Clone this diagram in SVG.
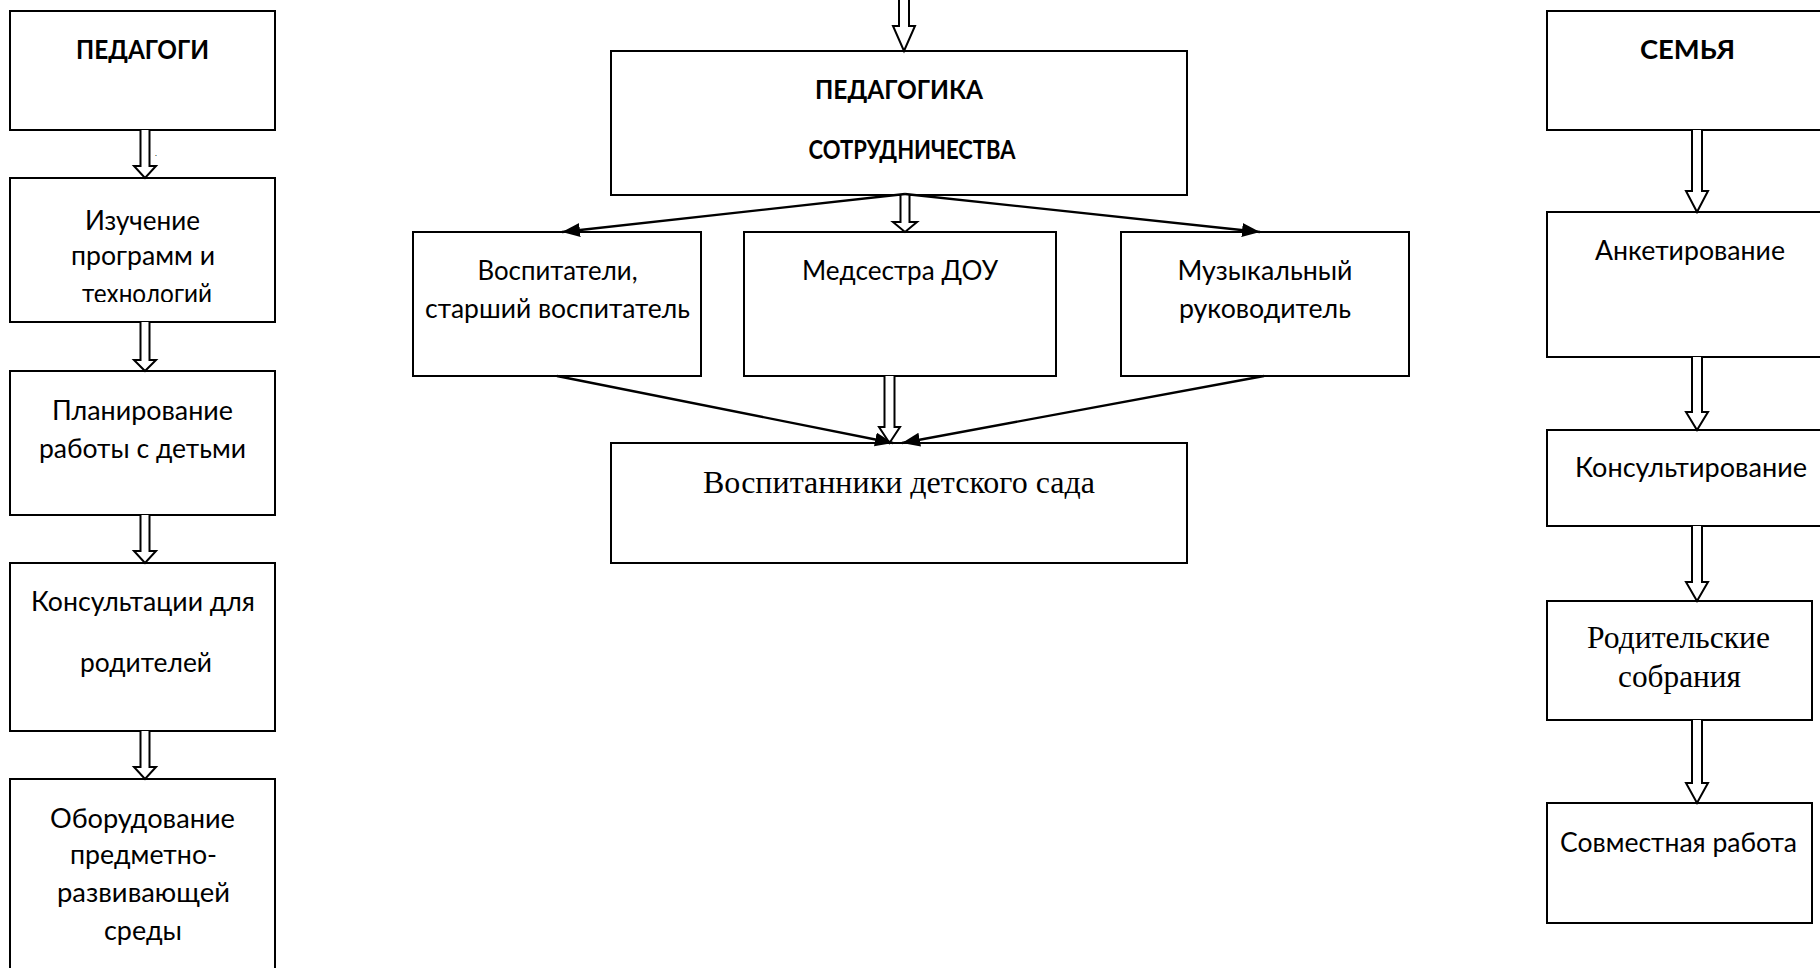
<svg xmlns="http://www.w3.org/2000/svg" width="1820" height="968" viewBox="0 0 1820 968">
<defs>
<style>
.box{fill:#fff;stroke:#000;stroke-width:2}
.t{font-family:Lato,"Open Sans","Liberation Sans",sans-serif;font-size:26px;fill:#000;text-anchor:middle}
.b{font-weight:bold}
.s{font-family:"Liberation Serif","Times New Roman",serif;font-size:32px;fill:#000;text-anchor:middle}
.ha{fill:#fff;stroke:#000;stroke-width:2;stroke-linejoin:miter}
.ln{fill:none;stroke:#000;stroke-width:2.4}
</style>
<marker id="ah" markerUnits="userSpaceOnUse" markerWidth="20" markerHeight="16" refX="18" refY="7" orient="auto">
<path d="M0,0 L18,7 L0,14 z" fill="#000"/>
</marker>
<clipPath id="clipTech"><rect x="10" y="270" width="265" height="32"/></clipPath>
</defs>
<rect width="1820" height="968" fill="#fff"/>

<g id="n-pedagogi"><rect class="box" x="10" y="11" width="265" height="119"/>
<text class="t b" x="142.5" y="59" textLength="133" lengthAdjust="spacingAndGlyphs">ПЕДАГОГИ</text></g>
<g id="n-izuchenie"><rect class="box" x="10" y="178" width="265" height="144"/>
<text class="t" x="142.5" y="230" textLength="115" lengthAdjust="spacingAndGlyphs">Изучение</text>
<text class="t" x="143" y="265" textLength="144" lengthAdjust="spacingAndGlyphs">программ и</text>
<text class="t" x="147" y="303" textLength="130" lengthAdjust="spacingAndGlyphs" clip-path="url(#clipTech)">технологий</text></g>
<g id="n-planirovanie"><rect class="box" x="10" y="371" width="265" height="144"/>
<text class="t" x="142.5" y="420" textLength="181" lengthAdjust="spacingAndGlyphs">Планирование</text>
<text class="t" x="142.5" y="458" textLength="207" lengthAdjust="spacingAndGlyphs">работы с детьми</text></g>
<g id="n-konsultacii"><rect class="box" x="10" y="563" width="265" height="168"/>
<text class="t" x="143" y="611" textLength="224" lengthAdjust="spacingAndGlyphs">Консультации для</text>
<text class="t" x="146" y="672" textLength="132" lengthAdjust="spacingAndGlyphs">родителей</text></g>
<g id="n-oborudovanie"><rect class="box" x="10" y="779" width="265" height="200"/>
<text class="t" x="142.5" y="828" textLength="185" lengthAdjust="spacingAndGlyphs">Оборудование</text>
<text class="t" x="143.5" y="864" textLength="147" lengthAdjust="spacingAndGlyphs">предметно-</text>
<text class="t" x="143.5" y="902" textLength="173" lengthAdjust="spacingAndGlyphs">развивающей</text>
<text class="t" x="143" y="940" textLength="78" lengthAdjust="spacingAndGlyphs">среды</text></g>
<text x="155" y="156" font-family="Lato,sans-serif" font-size="8" fill="#000">.</text>

<g id="n-pedagogika"><rect class="box" x="611" y="51" width="576" height="144"/>
<text class="t b" x="899" y="99" textLength="168" lengthAdjust="spacingAndGlyphs">ПЕДАГОГИКА</text>
<text class="t b" x="912" y="159" textLength="207" lengthAdjust="spacingAndGlyphs">СОТРУДНИЧЕСТВА</text></g>
<g id="n-vospitateli"><rect class="box" x="413" y="232" width="288" height="144"/>
<text class="t" x="557.5" y="280" textLength="160" lengthAdjust="spacingAndGlyphs">Воспитатели,</text>
<text class="t" x="557.5" y="318" textLength="265" lengthAdjust="spacingAndGlyphs">старший воспитатель</text></g>
<g id="n-medsestra"><rect class="box" x="744" y="232" width="312" height="144"/>
<text class="t" x="900" y="280" textLength="196" lengthAdjust="spacingAndGlyphs">Медсестра ДОУ</text></g>
<g id="n-muzykalny"><rect class="box" x="1121" y="232" width="288" height="144"/>
<text class="t" x="1265" y="280" textLength="175" lengthAdjust="spacingAndGlyphs">Музыкальный</text>
<text class="t" x="1265" y="318" textLength="172" lengthAdjust="spacingAndGlyphs">руководитель</text></g>
<g id="n-vospitanniki"><rect class="box" x="611" y="443" width="576" height="120"/>
<text class="s" x="899" y="493" textLength="392" lengthAdjust="spacingAndGlyphs">Воспитанники детского сада</text></g>

<g id="n-semya"><rect class="box" x="1547" y="11" width="290" height="119"/>
<text class="t b" x="1687.5" y="59" textLength="95" lengthAdjust="spacingAndGlyphs">СЕМЬЯ</text></g>
<g id="n-anketirovanie"><rect class="box" x="1547" y="212" width="290" height="145"/>
<text class="t" x="1690" y="260" textLength="190" lengthAdjust="spacingAndGlyphs">Анкетирование</text></g>
<g id="n-konsultirovanie"><rect class="box" x="1547" y="430" width="290" height="96"/>
<text class="t" x="1691" y="477" textLength="232" lengthAdjust="spacingAndGlyphs">Консультирование</text></g>
<g id="n-roditelskie"><rect class="box" x="1547" y="601" width="265" height="119"/>
<text class="s" x="1678.5" y="648" textLength="183" lengthAdjust="spacingAndGlyphs">Родительские</text>
<text class="s" x="1679.5" y="687" textLength="123" lengthAdjust="spacingAndGlyphs">собрания</text></g>
<g id="n-sovmestnaya"><rect class="box" x="1547" y="803" width="265" height="120"/>
<text class="t" x="1678.5" y="852" textLength="237" lengthAdjust="spacingAndGlyphs">Совместная работа</text></g>

<g id="connectors">
<path class="ha" d="M140.5,130 V166 H134 L145,178 L156,166 H149.5 V130"/>
<path class="ha" d="M140.5,322 V360 H134 L145,371 L156,360 H149.5 V322"/>
<path class="ha" d="M140.5,515 V551 H134 L145,563 L156,551 H149.5 V515"/>
<path class="ha" d="M140.5,731 V767 H134 L145,779 L156,767 H149.5 V731"/>

<path class="ha" d="M1692,130 V191 H1686 L1697,212 L1708,191 H1702 V130"/>
<path class="ha" d="M1692,357 V412 H1686 L1697,430 L1708,412 H1702 V357"/>
<path class="ha" d="M1692,526 V582 H1686 L1697,601 L1708,582 H1702 V526"/>
<path class="ha" d="M1692,720 V783 H1686 L1697,803 L1708,783 H1702 V720"/>

<path class="ha" d="M899,-3 V26 H893 L904,51 L915,26 H909 V-3"/>
<path class="ha" d="M900.5,195 V222 H893 L905,232 L917,222 H909.5 V195"/>
<path class="ha" d="M884.5,376 V427 H879 L889.5,443 L900,427 H894.5 V376"/>

<line class="ln" x1="905" y1="194" x2="562" y2="232" marker-end="url(#ah)"/>
<line class="ln" x1="905" y1="194" x2="1260" y2="232" marker-end="url(#ah)"/>
<line class="ln" x1="557" y1="376" x2="893" y2="443" marker-end="url(#ah)"/>
<line class="ln" x1="1264" y1="376" x2="902" y2="443" marker-end="url(#ah)"/>
</g>
</svg>
